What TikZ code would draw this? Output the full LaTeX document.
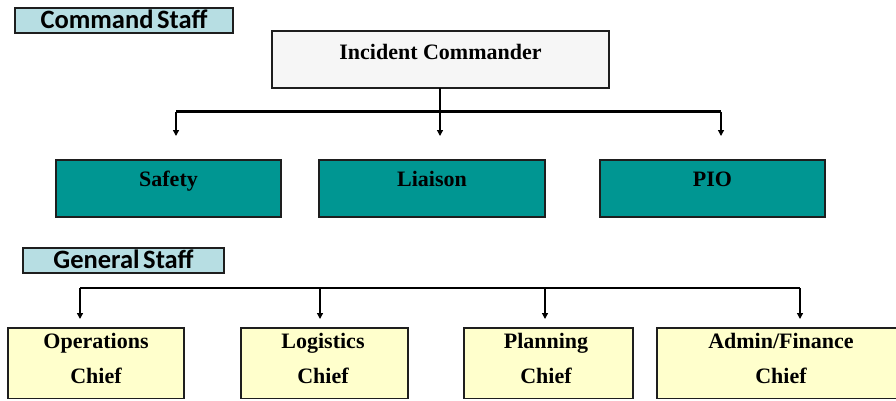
\documentclass[tikz,border=0pt]{standalone}
\usepackage{fontspec}
\setmainfont{Liberation Serif}
\newfontfamily\stafffont{Carlito}[WordSpace=0.6]
\usetikzlibrary{arrows.meta}
\definecolor{staffblue}{RGB}{183,222,227}
\definecolor{tealbox}{RGB}{0,150,146}
\definecolor{chiefyellow}{RGB}{255,255,204}
\definecolor{icgray}{RGB}{246,246,246}
\definecolor{edgegray}{RGB}{30,30,30}
\tikzset{
  boxbase/.style={draw=edgegray, line width=1.3pt, rectangle, anchor=north west,
    inner xsep=0pt, inner ysep=0pt, outer sep=0pt},
  stafflabel/.style={boxbase, fill=staffblue, text height=20pt, text depth=5pt,
    font=\stafffont\bfseries\fontsize{26.5}{28}\selectfont},
  icbox/.style={boxbase, fill=icgray, text height=28pt, text depth=29pt,
    font=\bfseries\fontsize{22}{26}\selectfont},
  tealnode/.style={boxbase, fill=tealbox, text height=26pt, text depth=31pt,
    font=\bfseries\fontsize{22}{26}\selectfont},
  chiefbox/.style={boxbase, fill=chiefyellow, minimum height=70.5pt},
  chieftext/.style={anchor=base, inner sep=0pt, font=\bfseries\fontsize{22}{26}\selectfont},
  busline/.style={line width=2.6pt, line cap=butt, line join=miter},
  dropline/.style={line width=1.3pt},
  droparrow/.style={line width=1.3pt, -{Triangle[length=6pt,width=6pt]}},
}
\begin{document}
\begin{tikzpicture}[x=1pt,y=-1pt]
\useasboundingbox (0,0) rectangle (896,400);

% staff headers
\node[stafflabel, minimum width=218pt] (cmdstaff) at (15,8) {Command Staff};
\node[stafflabel, minimum width=201pt] (genstaff) at (23,248) {General Staff};

% command staff
\node[icbox, minimum width=337pt] (ic) at (272,31) {Incident Commander};
\node[tealnode, minimum width=225pt] (safety) at (56,160) {Safety};
\node[tealnode, minimum width=226pt] (liaison) at (319,160) {Liaison};
\node[tealnode, minimum width=225pt] (pio) at (600,160) {PIO};

% general staff boxes
\node[chiefbox, minimum width=176pt] (ops) at (8,328) {};
\node[chiefbox, minimum width=167pt] (log) at (241,328) {};
\node[chiefbox, minimum width=169pt] (plan) at (464,328) {};
\node[chiefbox, minimum width=241pt] (admin) at (657,328) {};

\node[chieftext] (opsT) at (96,348) {\begin{tabular}[t]{@{}c@{}}Operations\\[9.5pt]Chief\end{tabular}};
\node[chieftext] (logT) at (323,348) {\begin{tabular}[t]{@{}c@{}}Logistics\\[9.5pt]Chief\end{tabular}};
\node[chieftext] (planT) at (546,348) {\begin{tabular}[t]{@{}c@{}}Planning\\[9.5pt]Chief\end{tabular}};
\node[chieftext] (adminT) at (781,348) {\begin{tabular}[t]{@{}c@{}}Admin/Finance\\[9.5pt]Chief\end{tabular}};

% command connectors
\coordinate (cbL) at (176,111.5);
\coordinate (cbM) at (440,111.5);
\coordinate (cbR) at (721,111.5);
\coordinate (ctL) at (176,136);
\coordinate (ctM) at (440,136);
\coordinate (ctR) at (721,136);
\draw[dropline] (ic.south -| cbM) -- (cbM);
\draw[busline] (cbL) -- (cbR);
\draw[droparrow] (cbL) -- (ctL);
\draw[droparrow] (cbM) -- (ctM);
\draw[droparrow] (cbR) -- (ctR);

% general connectors
\coordinate (gb1) at (80,288);
\coordinate (gb2) at (320,288);
\coordinate (gb3) at (545,288);
\coordinate (gb4) at (800,288);
\coordinate (gt1) at (80,319);
\coordinate (gt2) at (320,319);
\coordinate (gt3) at (545,319);
\coordinate (gt4) at (800,319);
\draw[busline] (gb1) -- (gb4);
\draw[droparrow] (gb1) -- (gt1);
\draw[droparrow] (gb2) -- (gt2);
\draw[droparrow] (gb3) -- (gt3);
\draw[droparrow] (gb4) -- (gt4);
\end{tikzpicture}
\end{document}
